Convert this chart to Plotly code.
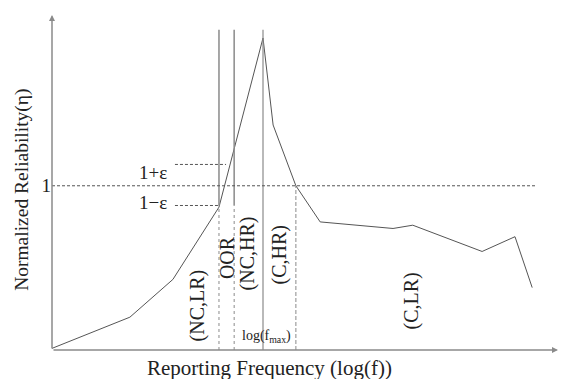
import plotly.graph_objects as go

# Data (arbitrary units: x = log(f), y = normalized reliability)
curve_x = [0.0, 1.54, 2.39, 3.30, 4.17, 4.37, 4.82, 5.30, 6.74, 7.13, 8.50, 9.15, 9.49]
curve_y = [0.01, 0.20, 0.43, 0.87, 1.90, 1.37, 1.00, 0.78, 0.74, 0.76, 0.60, 0.69, 0.38]

eps_hi = 1.13
eps_lo = 0.88
boundary_x = [3.30, 3.60, 4.17, 4.82]   # NC,LR | OOR | NC,HR (f_max) | C,HR
region_labels = ["(NC,LR)", "OOR", "(NC,HR)", "(C,HR)", "(C,LR)"]
region_label_x = [2.88, 3.46, 3.86, 4.50, 7.11]
region_label_y = [0.27, 0.56, 0.59, 0.58, 0.30]

FONT = "Liberation Serif"
GREY = "#8a8a8a"
DARK = "#555555"
TXT = "#222222"

fig = go.Figure()

# main curve
fig.add_trace(go.Scatter(x=curve_x, y=curve_y, mode="lines",
                         line=dict(color=DARK, width=1), hoverinfo="skip"))

top = 1.95
# boundary lines
for i, bx in enumerate(boundary_x):
    if i < 2:
        fig.add_shape(type="line", x0=bx, x1=bx, y0=eps_lo, y1=top,
                      line=dict(color=GREY, width=1.5))
        fig.add_shape(type="line", x0=bx, x1=bx, y0=0, y1=eps_lo,
                      line=dict(color=GREY, width=1, dash="dot"))
    elif i == 2:
        fig.add_shape(type="line", x0=bx, x1=bx, y0=0, y1=top,
                      line=dict(color=GREY, width=1.2))
    else:
        fig.add_shape(type="line", x0=bx, x1=bx, y0=0, y1=1.0,
                      line=dict(color=GREY, width=1, dash="4px,2px"))

# horizontal reference lines
fig.add_shape(type="line", x0=0, x1=9.58, y0=1.0, y1=1.0,
              line=dict(color=DARK, width=1, dash="3px,2px"))
fig.add_shape(type="line", x0=2.43, x1=3.44, y0=eps_hi, y1=eps_hi,
              line=dict(color=DARK, width=1, dash="3px,2px"))
fig.add_shape(type="line", x0=2.43, x1=3.30, y0=eps_lo, y1=eps_lo,
              line=dict(color=DARK, width=1, dash="3px,2px"))

# axis arrows
fig.add_annotation(x=10, y=0, ax=0, ay=0, xref="x", yref="y", axref="x", ayref="y",
                   text="", showarrow=True, arrowhead=2, arrowsize=0.8,
                   arrowwidth=1.5, arrowcolor=GREY)
fig.add_annotation(x=0, y=2.04, ax=0, ay=0, xref="x", yref="y", axref="x", ayref="y",
                   text="", showarrow=True, arrowhead=2, arrowsize=0.8,
                   arrowwidth=1.5, arrowcolor=GREY)

# region labels
for t, lx, ly in zip(region_labels, region_label_x, region_label_y):
    fig.add_annotation(x=lx, y=ly, text=t, showarrow=False, textangle=-90,
                       font=dict(family=FONT, size=20, color=TXT))

fig.add_annotation(x=4.24, y=0.08, text="log(f<sub>max</sub>)", showarrow=False,
                   font=dict(family=FONT, size=14, color=TXT))
fig.add_annotation(x=2.0, y=1.08, text="1+ε", showarrow=False,
                   font=dict(family=FONT, size=19, color=TXT))
fig.add_annotation(x=2.0, y=0.90, text="1−ε", showarrow=False,
                   font=dict(family=FONT, size=19, color=TXT))

# axis titles
fig.add_annotation(xref="paper", yref="paper", x=0.43, y=0, yshift=-18,
                   xanchor="center", yanchor="middle",
                   text="Reporting Frequency (log(f))", showarrow=False,
                   font=dict(family=FONT, size=21, color=TXT))
fig.add_annotation(xref="paper", yref="paper", x=0, xshift=-30, y=0.478,
                   xanchor="center", yanchor="middle",
                   text="Normalized Reliability(η)", showarrow=False, textangle=-90,
                   font=dict(family=FONT, size=19.5, color=TXT))

fig.update_layout(
    width=561, height=379,
    margin=dict(l=52, r=3, t=15, b=29),
    paper_bgcolor="white", plot_bgcolor="white",
    showlegend=False,
    xaxis=dict(range=[0, 10], showgrid=False, zeroline=False, showticklabels=False,
               ticks="", showline=False, fixedrange=True),
    yaxis=dict(range=[0, 2.04], showgrid=False, zeroline=False,
               tickvals=[1], ticktext=["1"], ticks="", ticklen=0,
               tickfont=dict(family=FONT, size=19, color=TXT),
               showline=False, fixedrange=True),
)

fig.write_html("out.html")
